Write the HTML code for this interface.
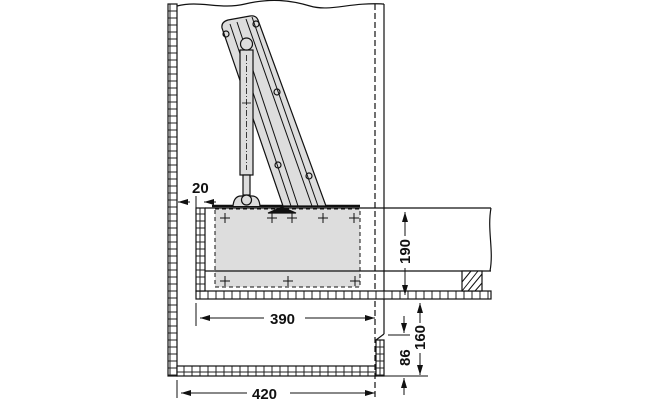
<!DOCTYPE html>
<html><head><style>body{margin:0;background:#fff}svg{display:block}text{font-family:"Liberation Sans",sans-serif;font-weight:bold;font-size:15px;fill:#111}</style></head>
<body>
<svg width="659" height="400" viewBox="0 0 659 400" xmlns="http://www.w3.org/2000/svg">
<defs>
<pattern id="bv" x="0" y="4" width="10" height="7" patternUnits="userSpaceOnUse"><rect width="10" height="7" fill="#fff" stroke="#222" stroke-width="1"/></pattern>
<pattern id="bh" x="0" y="0" width="8" height="12" patternUnits="userSpaceOnUse"><rect width="8" height="12" fill="#fff" stroke="#222" stroke-width="1"/></pattern>
<marker id="a" viewBox="0 0 10 6" refX="10" refY="3" markerWidth="10" markerHeight="6" orient="auto-start-reverse"><path d="M0,0L10,3L0,6z" fill="#111"/></marker>
</defs>
<g stroke="#111" fill="none" stroke-width="1.2">
<path d="M177,6 C200,0 220,10 245,4 S290,0 310,6 S350,2 384,4"/>
<rect x="168" y="4" width="9" height="372" fill="url(#bv)"/>
<rect x="177" y="366" width="199" height="10" fill="url(#bh)"/>
<rect x="376" y="340" width="8" height="36" fill="url(#bv)"/>
<path d="M376,340 L384,334"/>
<path d="M384,4 V291 M384,299 V334"/>
<path d="M375,4 V400" stroke-dasharray="6,3"/>
<!-- grey box -->
<rect x="215" y="209" width="145" height="78" fill="#ddd" stroke-dasharray="4,3" stroke-width="1"/>
<!-- shelf -->
<rect x="196" y="291" width="295" height="8" fill="url(#bh)"/>
<rect x="196" y="208" width="9" height="83" fill="url(#bv)"/>
<path d="M205,208 H491 M205,271 H491 M491,208 C487,230 494,250 490,271"/>
<rect x="462" y="271" width="20" height="20" fill="#fff"/>
<path d="M462,282 L471,271 M462,291 L478,271 M468,291 L482,274 M475,291 L482,283" stroke-width="1"/>
<path d="M212,206 H360" stroke-width="2.5"/>
<path d="M268,213 L282,207 L296,213 z" fill="#111"/>
<g stroke-width="1">
<path d="M220,218h10M225,213v10 M267,218h10M272,213v10 M287,218h10M292,213v10 M318,218h10M323,213v10 M349,218h10M354,213v10 M220,281h10M225,276v10 M283,281h10M288,276v10 M350,281h10M355,276v10"/>
</g>
<!-- arm -->
<path d="M222,28 Q221,22 228,20 L250,16 Q256,15 258,20 L326,206 L283,206 Z" fill="#ddd"/>
<path d="M230,24 L291,206 M237,22 L298,206 M246,19 L312,206 M252,17 L318,206" stroke-width="1"/>
<circle cx="226" cy="34" r="3"/><circle cx="256" cy="24" r="3"/><circle cx="277" cy="92" r="3"/><circle cx="309" cy="176" r="3"/><circle cx="278" cy="165" r="3"/>
<rect x="240" y="50" width="13" height="125" fill="#ddd"/>
<path d="M246.5,55 V170" stroke-dasharray="6,2,1,2" stroke-width="0.8"/>
<path d="M242,103h9" stroke-width="0.8"/>
<rect x="243" y="175" width="7" height="20" fill="#ddd"/>
<circle cx="246.5" cy="44" r="6" fill="#ddd"/>
<path d="M233,206 Q234,196 241,196 L252,196 Q259,196 260,206" fill="#ddd"/>
<circle cx="246.5" cy="200" r="5" fill="#ddd"/>
<g stroke-width="1">
<path d="M196,303 V326 M177,380 V398 M388,335 H410 M384,376 H428 M384,299 H428"/>
<path d="M200,318 H264 M305,318 H375" marker-start="url(#a)" marker-end="url(#a)"/>
<path d="M181,393 H247 M290,393 H375" marker-start="url(#a)"/>
<path d="M290,393 H375" marker-end="url(#a)"/>
<path d="M405,212 V236 M405,268 V295" marker-start="url(#a)"/>
<path d="M405,268 V295" marker-end="url(#a)"/>
<path d="M420,303 V323 M420,353 V375" marker-start="url(#a)"/>
<path d="M420,353 V375" marker-end="url(#a)"/>
<path d="M404,316 V333" marker-end="url(#a)"/>
<path d="M404,395 V378" marker-end="url(#a)"/>
<path d="M190,202 H178" marker-end="url(#a)"/>
<path d="M204,202 H216" marker-start="url(#a)"/>
<path d="M196,196 V210"/>
</g>
</g>
<text x="192" y="193">20</text>
<text x="270" y="324">390</text>
<text x="252" y="399">420</text>
<text transform="translate(410,264) rotate(-90)">190</text>
<text transform="translate(425,350) rotate(-90)">160</text>
<text transform="translate(410,366) rotate(-90)">86</text>
</svg>
</body></html>
